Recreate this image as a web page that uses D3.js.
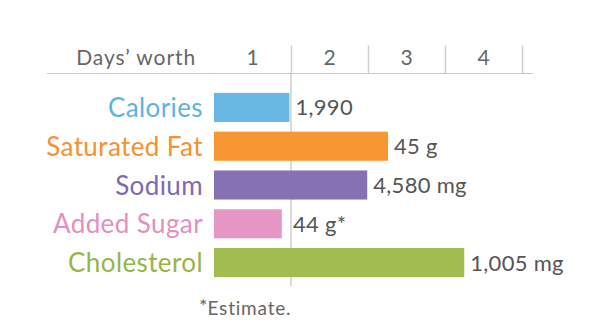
<!DOCTYPE html>
<html>
<head>
<meta charset="utf-8">
<script src="https://cdn.jsdelivr.net/npm/d3@7"></script>
<style>
  body { margin: 0; background: #fff; }
  svg { display: block; font-family: Lato, "Noto Sans", sans-serif; }
</style>
</head>
<body>
<svg id="chart" width="600" height="333"></svg>
<script>
const categories = ["Calories", "Saturated Fat", "Sodium", "Added Sugar", "Cholesterol"];
const daysWorth = [0.98, 2.26, 1.99, 0.88, 3.25];
const valueLabels = ["1,990", "45 g", "4,580 mg", "44 g*", "1,005 mg"];
const colors = ["#68b8e3", "#f89633", "#8771b5", "#e596c4", "#a1bc4f"];
const labelColors = ["#5db3e0", "#f7912d", "#7f68b0", "#e48fc0", "#97b544"];
const tickValues = [1, 2, 3, 4];
const headerTitle = "Days’ worth";
const footnote = "Estimate.";

const svg = d3.select("#chart");
const x = d3.scaleLinear().domain([0, 4]).range([214, 522]);
const y = d3.scaleBand().domain(categories).range([89, 281]).paddingInner(0.25).paddingOuter(0.1);

// header baseline
svg.append("line")
  .attr("x1", 47).attr("x2", 533).attr("y1", 73.5).attr("y2", 73.5)
  .attr("stroke", "#c8c8c8").attr("stroke-width", 1.2);

// tick separators via axis
const axis = d3.axisTop(x).tickValues(tickValues).tickSize(28).tickFormat("");
const ag = svg.append("g").attr("transform", "translate(0,73.5)").call(axis);
ag.select(".domain").remove();
ag.selectAll(".tick line").attr("stroke", "#cfcfcf").attr("stroke-width", 1.5);

// long line at 1 day
svg.append("line")
  .attr("x1", x(1)).attr("x2", x(1)).attr("y1", 73).attr("y2", 286)
  .attr("stroke", "#cfcfcf").attr("stroke-width", 1.5);

// tick labels centred between separators
svg.append("g").selectAll("text").data(tickValues).join("text")
  .attr("x", d => x(d - 0.5)).attr("y", 65)
  .attr("text-anchor", "middle")
  .attr("font-size", 21).attr("fill", "#666")
  .text(d => d);

svg.append("text")
  .attr("x", 196).attr("y", 65).attr("text-anchor", "end")
  .attr("font-size", 21).attr("letter-spacing", 0.9).attr("fill", "#666")
  .text(headerTitle);

const rows = categories.map((c, i) => ({c, v: daysWorth[i], lab: valueLabels[i], col: colors[i], lc: labelColors[i]}));

svg.append("g").selectAll("rect").data(rows).join("rect")
  .attr("x", x(0)).attr("y", d => y(d.c))
  .attr("width", d => x(d.v) - x(0)).attr("height", y.bandwidth())
  .attr("fill", d => d.col);

svg.append("g").selectAll("text").data(rows).join("text")
  .attr("x", 203).attr("y", d => y(d.c) + y.bandwidth() / 2 + 9.5)
  .attr("text-anchor", "end").attr("font-size", 26).attr("letter-spacing", 0.4)
  .attr("fill", d => d.lc)
  .text(d => d.c);

svg.append("g").selectAll("text").data(rows).join("text")
  .attr("x", d => Math.max(x(d.v), x(1) - 4) + 6)
  .attr("y", d => y(d.c) + y.bandwidth() / 2 + 8)
  .attr("font-size", 22).attr("letter-spacing", 0.3).attr("fill", "#555")
  .text(d => d.lab);

// footnote
const fn = svg.append("text").attr("x", 199).attr("y", 315).attr("fill", "#666");
fn.append("tspan").attr("font-size", 20).attr("dy", -2).text("*");
fn.append("tspan").attr("font-size", 19).attr("dy", 2).attr("letter-spacing", 0.8).text(footnote);
</script>
</body>
</html>
